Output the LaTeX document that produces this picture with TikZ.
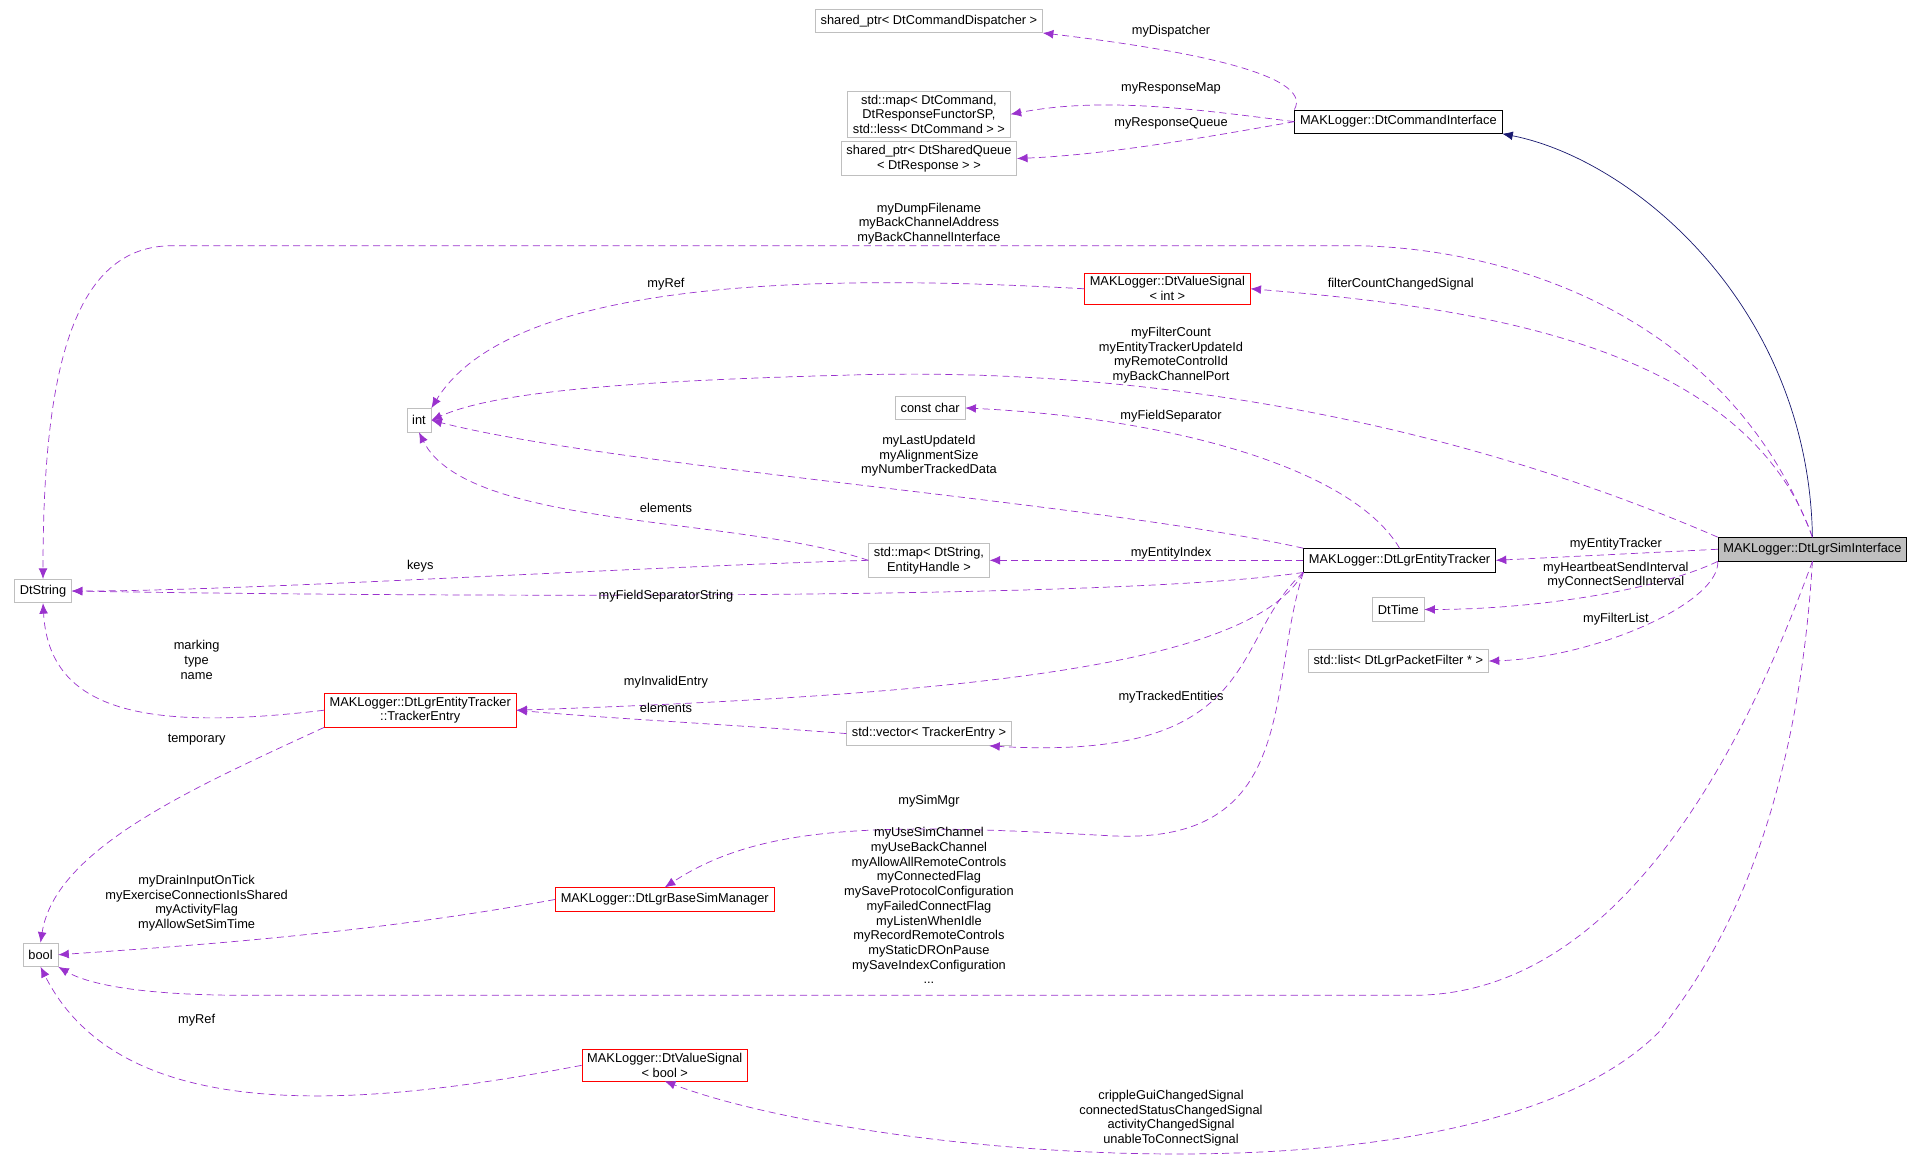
\documentclass[tikz,border=0pt]{standalone}
\usepackage{fontspec}
\setmainfont{Liberation Sans}
\usetikzlibrary{arrows.meta, positioning}
\definecolor{dxpurple}{HTML}{9A32CD}
\definecolor{dxnavy}{HTML}{191970}
\definecolor{dxgray}{HTML}{BFBFBF}

\begin{document}
\begin{tikzpicture}[
        x=0.0246cm, y=-0.0246cm,
        font=\fontsize{7.3}{8.4}\selectfont,
        cls/.style={rectangle, draw, inner xsep=3pt, inner ysep=2pt, minimum height=0.47cm, align=center},
        ext/.style={cls, draw=dxgray},
        red/.style={cls, draw=red},
        use/.style={-{Latex[length=6pt,width=5pt]}, dxpurple, dashed, dash pattern=on 4pt off 2.5pt},
        inh/.style={-{Latex[length=6pt,width=5pt]}, dxnavy},
        lbl/.style={align=center, inner sep=0pt}
    ]
    \useasboundingbox (0,0) rectangle (1565,949);

    % Classes
    \node[cls, fill=dxgray] (sim) at (1475,447) {MAKLogger::DtLgrSimInterface};
    \node[cls] (cmdif) at (1138,99) {MAKLogger::DtCommandInterface};
    \node[cls] (entTr) at (1139,456) {MAKLogger::DtLgrEntityTracker};
    \node[ext] (disp) at (756,17) {shared\_ptr< DtCommandDispatcher >};
    \node[ext] (respMap) at (756,93) {std::map< DtCommand,\\ DtResponseFunctorSP,\\ std::less< DtCommand > >};
    \node[ext] (respQ) at (756,129) {shared\_ptr< DtSharedQueue\\ < DtResponse > >};
    \node[red] (sigInt) at (950,235) {MAKLogger::DtValueSignal\\ < int >};
    \node[ext] (cchar) at (757,332) {const char};
    \node[ext] (int) at (341,342) {int};
    \node[ext] (mapEH) at (756,456) {std::map< DtString,\\ EntityHandle >};
    \node[ext] (dtstr) at (35,481) {DtString};
    \node[ext] (dttime) at (1138,496) {DtTime};
    \node[ext] (flist) at (1138,538) {std::list< DtLgrPacketFilter * >};
    \node[red] (trEntry) at (342,578) {MAKLogger::DtLgrEntityTracker\\ ::TrackerEntry};
    \node[ext] (vecTE) at (756,597) {std::vector< TrackerEntry >};
    \node[red] (baseSim) at (541,732) {MAKLogger::DtLgrBaseSimManager};
    \node[ext] (bool) at (33,777) {bool};
    \node[red] (sigBool) at (541,867) {MAKLogger::DtValueSignal\\ < bool >};

    % Connections
    \draw[inh] (sim.north) .. controls (1472,250) and (1330,130) .. (cmdif.south east);
    \draw[use] (cmdif.north west) .. controls (1070,60) and (960,40) .. (disp.south east);
    \draw[use] (cmdif.west) .. controls (980,90) and (900,78) .. (respMap.east);
    \draw[use] (cmdif.west) .. controls (980,112) and (900,126) .. (respQ.east);
    \draw[use] (sim.north) .. controls (1400,240) and (1200,200) .. (1100,200) -- (140,200) .. controls (60,200) and (35,300) .. (dtstr.north);
    \draw[use] (sim.north) .. controls (1420,280) and (1200,250) .. (sigInt.east);
    \draw[use] (sim.north west) .. controls (1150,330) and (900,300) .. (700,305) .. controls (500,310) and (400,320) .. (int.east);
    \draw[use] (sigInt.west) .. controls (700,225) and (420,220) .. (int.north east);
    \draw[use] (entTr.north) .. controls (1100,380) and (950,340) .. (cchar.east);
    \draw[use] (entTr.north west) .. controls (900,410) and (500,380) .. (int.east);
    \draw[use] (mapEH.west) .. controls (600,420) and (380,430) .. (int.south);
    \draw[use] (entTr.west) -- (mapEH.east);
    \draw[use] (mapEH.west) .. controls (500,462) and (200,481) .. (dtstr.east);
    \draw[use] (entTr.south west) .. controls (900,490) and (300,485) .. (dtstr.east);
    \draw[use] (sim.west) -- (entTr.east);
    \draw[use] (sim.south west) .. controls (1350,480) and (1250,496) .. (dttime.east);
    \draw[use] (sim.south west) .. controls (1400,490) and (1300,535) .. (flist.east);
    \draw[use] (entTr.south west) .. controls (1020,540) and (800,565) .. (trEntry.east);
    \draw[use] (vecTE.west) .. controls (600,590) and (500,585) .. (trEntry.east);
    \draw[use] (entTr.south west) .. controls (1000,520) and (1030,620) .. (805,607);
    \draw[use] (trEntry.west) .. controls (120,595) and (40,580) .. (dtstr.south);
    \draw[use] (trEntry.south west) .. controls (160,640) and (45,690) .. (bool.north);
    \draw[use] (entTr.south west) .. controls (1030,560) and (1060,690) .. (900,680) .. controls (720,670) and (620,670) .. (baseSim.north);
    \draw[use] (baseSim.west) .. controls (300,760) and (150,770) .. (bool.east);
    \draw[use] (sim.south) .. controls (1430,580) and (1330,810) .. (1150,810) -- (200,810) .. controls (110,810) and (70,800) .. (bool.south east);
    \draw[use] (sigBool.west) .. controls (300,900) and (100,920) .. (bool.south);
    \draw[use] (sim.south) .. controls (1460,700) and (1380,800) .. (1350,840) .. controls (1200,990) and (700,940) .. (sigBool.south);

    % Labels
    \node[lbl] (lDisp) at (953,25) {myDispatcher};
    \node[lbl] (lMap) at (953,72) {myResponseMap};
    \node[lbl] (lQue) at (953,100) {myResponseQueue};
    \node[lbl] (lDump) at (756,182) {myDumpFilename\\ myBackChannelAddress\\ myBackChannelInterface};
    \node[lbl] (lFcs) at (1140,231) {filterCountChangedSignal};
    \node[lbl] (lRefI) at (542,231) {myRef};
    \node[lbl] (lFilt) at (953,289) {myFilterCount\\ myEntityTrackerUpdateId\\ myRemoteControlId\\ myBackChannelPort};
    \node[lbl] (lSep) at (953,339) {myFieldSeparator};
    \node[lbl] (lLast) at (756,371) {myLastUpdateId\\ myAlignmentSize\\ myNumberTrackedData};
    \node[lbl] (lElI) at (542,413) {elements};
    \node[lbl] (lIdx) at (953,450) {myEntityIndex};
    \node[lbl] (lKeys) at (342,461) {keys};
    \node[lbl] (lSepS) at (542,485) {myFieldSeparatorString};
    \node[lbl] (lEnt) at (1315,443) {myEntityTracker};
    \node[lbl] (lHb) at (1315,468) {myHeartbeatSendInterval\\ myConnectSendInterval};
    \node[lbl] (lFl) at (1315,504) {myFilterList};
    \node[lbl] (lMark) at (160,537) {marking\\ type\\ name};
    \node[lbl] (lInv) at (542,555) {myInvalidEntry};
    \node[lbl] (lTrk) at (953,567) {myTrackedEntities};
    \node[lbl] (lElT) at (542,576) {elements};
    \node[lbl] (lTmp) at (160,602) {temporary};
    \node[lbl] (lMgr) at (756,652) {mySimMgr};
    \node[lbl] (lDrain) at (160,735) {myDrainInputOnTick\\ myExerciseConnectionIsShared\\ myActivityFlag\\ myAllowSetSimTime};
    \node[lbl] (lUse) at (756,737) {myUseSimChannel\\ myUseBackChannel\\ myAllowAllRemoteControls\\ myConnectedFlag\\ mySaveProtocolConfiguration\\ myFailedConnectFlag\\ myListenWhenIdle\\ myRecordRemoteControls\\ myStaticDROnPause\\ mySaveIndexConfiguration\\ ...};
    \node[lbl] (lRefB) at (160,830) {myRef};
    \node[lbl] (lCrip) at (953,910) {crippleGuiChangedSignal\\ connectedStatusChangedSignal\\ activityChangedSignal\\ unableToConnectSignal};
\end{tikzpicture}
\end{document}
